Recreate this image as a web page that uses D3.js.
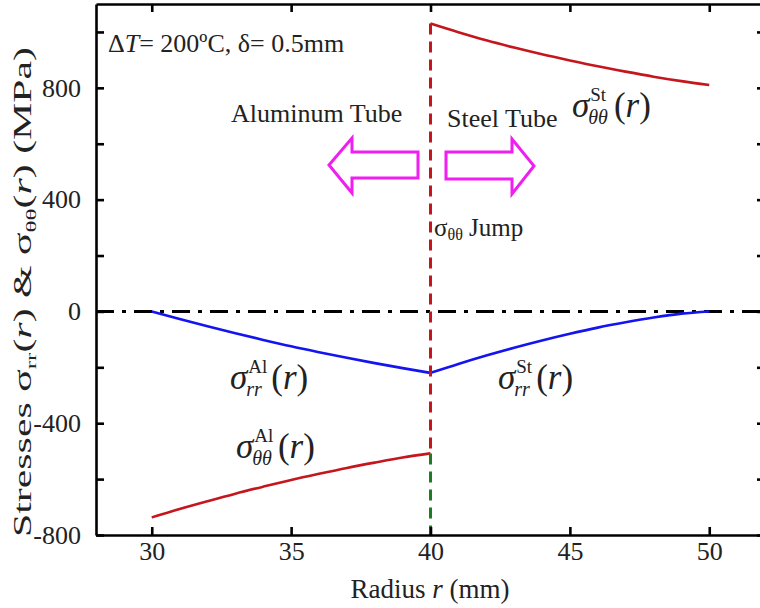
<!DOCTYPE html>
<html><head><meta charset="utf-8">
<script src="https://cdn.jsdelivr.net/npm/d3@7"></script>
<style>
body{margin:0;background:#fff;}
svg{display:block;}
</style></head>
<body><svg id="c" width="760" height="608"></svg>
<script>
// ---- data ----
const radiusAl = [30,31,32,33,34,35,36,37,38,39,40];
const sigmaRrAl = [0,-27,-53,-78,-102,-125,-146,-166,-185,-203,-220];
const sigmaTtAl = [-737,-707,-679,-652,-627,-603,-581,-560,-541,-523,-508];
const radiusSt = [40,41,42,43,44,45,46,47,48,49,50];
const sigmaRrSt = [-220,-188,-158,-130,-104,-80,-58,-39,-22,-8,0];
const sigmaTtSt = [1030,999,970,944,920,898,877,858,840,824,810];
const xTicks = [30,35,40,45,50];
const yTicks = [-800,-600,-400,-200,0,200,400,600,800,1000];
const yTickLabels = [-800,-400,0,400,800];
const jumpR = 40;

const FONT = "'Liberation Serif','Times New Roman',Times,serif";
const svg = d3.select("#c").style("font-family", FONT);
const x = d3.scaleLinear().domain([28,52]).range([96,765]);
const y = d3.scaleLinear().domain([-800,1100]).range([535,4]);
const RED="#c4161c", BLUE="#1414f0", GREEN="#1e7d22", MAG="#f01ef0", TXT="#222";

// zero dash-dot line
svg.append("line").attr("x1",x(28)).attr("x2",x(52)).attr("y1",y(0)).attr("y2",y(0))
  .attr("stroke","#000").attr("stroke-width",3).attr("stroke-dasharray","18,8,4,8");

const line = d3.line().x(d=>x(d[0])).y(d=>y(d[1])).curve(d3.curveMonotoneX);
function path(xs, ys, color){
  svg.append("path").datum(xs.map((r,i)=>[r,ys[i]])).attr("d",line)
    .attr("fill","none").attr("stroke",color).attr("stroke-width",2.6).attr("stroke-linejoin","round");
}
path(radiusAl, sigmaRrAl, BLUE);
path(radiusSt, sigmaRrSt, BLUE);
path(radiusAl, sigmaTtAl, RED);
path(radiusSt, sigmaTtSt, RED);

// jump lines
const tAlEnd = sigmaTtAl[sigmaTtAl.length-1], tStStart = sigmaTtSt[0];
svg.append("line").attr("x1",x(jumpR)).attr("x2",x(jumpR)).attr("y1",y(tStStart)).attr("y2",y(tAlEnd))
  .attr("stroke",RED).attr("stroke-width",3).attr("stroke-dasharray","11,7");
svg.append("line").attr("x1",x(jumpR)).attr("x2",x(jumpR)).attr("y1",y(tAlEnd)).attr("y2",y(-800))
  .attr("stroke",GREEN).attr("stroke-width",3).attr("stroke-dasharray","11,7");

// axes
const gB = svg.append("g").attr("transform",`translate(0,${y(-800)})`)
  .call(d3.axisBottom(x).tickValues(xTicks).tickSizeInner(-8).tickSizeOuter(0).tickPadding(7).tickFormat(d=>d));
const gT = svg.append("g").attr("transform",`translate(0,${y(1100)})`)
  .call(d3.axisTop(x).tickValues(xTicks).tickSizeInner(-8).tickSizeOuter(0).tickFormat(""));
const gL = svg.append("g").attr("transform",`translate(${x(28)},0)`)
  .call(d3.axisLeft(y).tickValues(yTicks).tickSizeInner(-8).tickSizeOuter(0).tickPadding(15)
  .tickFormat(d=>yTickLabels.includes(d)?d:""));
const gR = svg.append("g").attr("transform",`translate(${x(52)},0)`)
  .call(d3.axisRight(y).tickValues(yTicks).tickSizeInner(-8).tickSizeOuter(0).tickFormat(""));
[gB,gT,gL,gR].forEach(g=>{
  g.attr("font-family",null);
  g.select(".domain").attr("stroke","#000").attr("stroke-width",2.6);
  g.selectAll(".tick line").attr("stroke","#000").attr("stroke-width",2.6);
  g.selectAll("text").style("font-family",FONT).attr("font-size",26).attr("fill",TXT);
});
gB.selectAll("text").attr("dy","0.71em");

// axis titles
const xt = svg.append("text").attr("x",430).attr("y",598).attr("text-anchor","middle")
  .attr("font-size",27).attr("fill",TXT);
xt.append("tspan").text("Radius ");
xt.append("tspan").attr("font-style","italic").text("r");
xt.append("tspan").text(" (mm)");

const yt = svg.append("text").attr("transform","translate(31,292) rotate(-90)")
  .attr("text-anchor","middle").attr("font-size",25).attr("fill",TXT)
  .attr("textLength",490).attr("lengthAdjust","spacingAndGlyphs");
yt.append("tspan").text("Stresses σ");
yt.append("tspan").attr("font-size",15).attr("dy",5).text("rr");
yt.append("tspan").attr("dy",-5).text("(");
yt.append("tspan").attr("font-style","italic").text("r");
yt.append("tspan").text(") & σ");
yt.append("tspan").attr("font-size",15).attr("dy",5).text("θθ");
yt.append("tspan").attr("dy",-5).text("(");
yt.append("tspan").attr("font-style","italic").text("r");
yt.append("tspan").text(")  (MPa)");

// annotation
const an = svg.append("text").attr("x",108).attr("y",52).attr("font-size",26).attr("fill",TXT);
an.append("tspan").text("Δ");
an.append("tspan").attr("font-style","italic").text("T");
an.append("tspan").text("= 200ºC, δ= 0.5mm");

svg.append("text").attr("x",231).attr("y",122).attr("font-size",26).attr("fill",TXT).text("Aluminum Tube");
svg.append("text").attr("x",447).attr("y",127).attr("font-size",26).attr("fill",TXT).text("Steel Tube");

const jt = svg.append("text").attr("x",434).attr("y",236).attr("font-size",25).attr("fill",TXT);
jt.append("tspan").text("σ");
jt.append("tspan").attr("font-size",16).attr("dy",4).text("θθ");
jt.append("tspan").attr("dy",-4).text(" Jump");

// arrows
svg.append("path").attr("d",`M418,152 L352,152 L352,138 L329,165 L352,193 L352,178 L418,178 Z`)
  .attr("fill","none").attr("stroke",MAG).attr("stroke-width",3);
svg.append("path").attr("d",`M446,152 L512,152 L512,139 L534,166 L512,194 L512,179 L446,179 Z`)
  .attr("fill","none").attr("stroke",MAG).attr("stroke-width",3);

// sigma labels
function sigmaLabel(x0, base, sup, sub){
  const g = svg.append("g").attr("fill",TXT);
  const s = g.append("text").attr("x",x0).attr("y",base).attr("font-size",35).attr("font-style","italic").text("σ");
  const sw = s.node().getComputedTextLength();
  const a = g.append("text").attr("x",x0+sw+1).attr("y",base-16).attr("font-size",19).text(sup);
  const b = g.append("text").attr("x",x0+sw-1).attr("y",base+7).attr("font-size",20).attr("font-style","italic").text(sub);
  const w = Math.max(a.node().getComputedTextLength(), b.node().getComputedTextLength());
  const p = g.append("text").attr("x",x0+sw+w+5).attr("y",base).attr("font-size",35);
  p.append("tspan").text("(");
  p.append("tspan").attr("font-style","italic").text("r");
  p.append("tspan").text(")");
}
sigmaLabel(230, 389, "Al", "rr");
sigmaLabel(498, 389, "St", "rr");
sigmaLabel(236, 458, "Al", "θθ");
sigmaLabel(572, 117, "St", "θθ");
</script></body></html>
